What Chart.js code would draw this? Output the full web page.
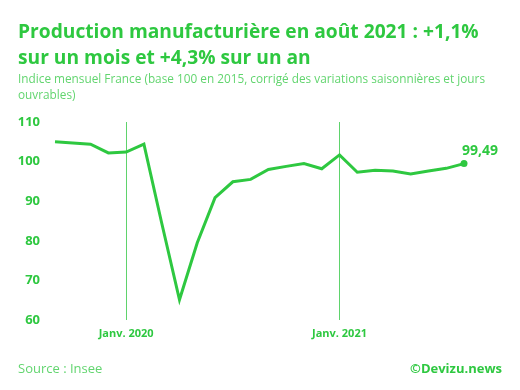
<!DOCTYPE html>
<html>
<head>
<meta charset="utf-8">
<script src="https://cdn.jsdelivr.net/npm/chart.js@4.4.0/dist/chart.umd.min.js"></script>
<style>
  body { margin: 0; background: #fff; font-family: "Open Sans", sans-serif; }
  #wrap { position: relative; width: 520px; height: 390px; overflow: hidden; }
  #c { position: absolute; left: 0; top: 0; }
  .title { position: absolute; left: 18px; top: 18px; width: 470px; font-size: 19.2px; font-weight: 700; color: #2ec840; line-height: 26px; }
  .sub { position: absolute; left: 18px; top: 70px; width: 470px; font-size: 11.8px; color: #62d56f; line-height: 16px; }
  .src { position: absolute; left: 18px; top: 359px; font-size: 13px; color: #62d56f; }
  .cpy { position: absolute; right: 18px; top: 359px; font-size: 13px; font-weight: 700; color: #2ec840; }
</style>
</head>
<body>
<div id="wrap">
  <canvas id="c" width="520" height="390"></canvas>
  <div class="title">Production manufacturière en août 2021 : +1,1%<br>sur un mois et +4,3% sur un an</div>
  <div class="sub">Indice mensuel France (base 100 en 2015, corrigé des variations saisonnières et jours<br>ouvrables)</div>
  <div class="src">Source : Insee</div>
  <div class="cpy">©Devizu.news</div>
</div>
<script>
const months = ['2019-09','2019-10','2019-11','2019-12',
  '2020-01','2020-02','2020-03','2020-04','2020-05','2020-06','2020-07','2020-08','2020-09','2020-10','2020-11','2020-12',
  '2021-01','2021-02','2021-03','2021-04','2021-05','2021-06','2021-07','2021-08'];
const indexValues = [105.0, 104.7, 104.4, 102.2,
  102.4, 104.4, 84.5, 65.1, 79.5, 90.9, 94.9, 95.5, 98.0, 98.8, 99.5, 98.2,
  101.7, 97.3, 97.8, 97.6, 96.9, 97.6, 98.3, 99.49];
const yTicks = [60, 70, 80, 90, 100, 110];

const green = '#2ec840';
const lastIdx = indexValues.length - 1;

const endLabel = {
  id: 'endLabel',
  afterDatasetsDraw(chart) {
    const pt = chart.getDatasetMeta(0).data[lastIdx];
    const ctx = chart.ctx;
    ctx.save();
    ctx.fillStyle = green;
    ctx.font = 'bold 14px "Open Sans"';
    ctx.textAlign = 'center';
    ctx.textBaseline = 'bottom';
    ctx.fillText(indexValues[lastIdx].toFixed(2).replace('.', ','), pt.x + 16, pt.y - 6);
    ctx.restore();
  }
};

new Chart(document.getElementById('c'), {
  type: 'line',
  data: {
    labels: months,
    datasets: [{
      data: indexValues,
      borderColor: green,
      backgroundColor: green,
      borderWidth: 3,
      tension: 0,
      pointRadius: indexValues.map((v, i) => i === lastIdx ? 3.5 : 0),
      pointBorderWidth: 0
    }]
  },
  plugins: [endLabel],
  options: {
    responsive: false,
    animation: false,
    layout: { padding: { top: 122, right: 56, bottom: 50, left: 0 } },
    plugins: { legend: { display: false }, tooltip: { enabled: false } },
    scales: {
      x: {
        offset: false,
        border: { display: false },
        afterFit: s => { s.height = 20; },
        grid: {
          drawTicks: false,
          color: '#5fd36c',
          lineWidth: c => (c.tick && months[c.index] && months[c.index].endsWith('-01')) ? 1 : 0
        },
        ticks: {
          autoSkip: false,
          maxRotation: 0,
          padding: 7,
          color: green,
          font: { family: 'Open Sans', size: 11, weight: 'bold' },
          callback: (v, i) => months[i].endsWith('-01') ? 'Janv. ' + months[i].slice(0, 4) : ''
        }
      },
      y: {
        min: 60,
        max: 110,
        border: { display: false },
        afterFit: s => { s.width = 55; },
        afterBuildTicks: s => { s.ticks = yTicks.map(v => ({ value: v })); },
        grid: { display: false, drawTicks: false },
        ticks: {
          padding: 15,
          color: green,
          font: { family: 'Open Sans', size: 13, weight: 'bold' }
        }
      }
    }
  }
});
</script>
</body>
</html>
